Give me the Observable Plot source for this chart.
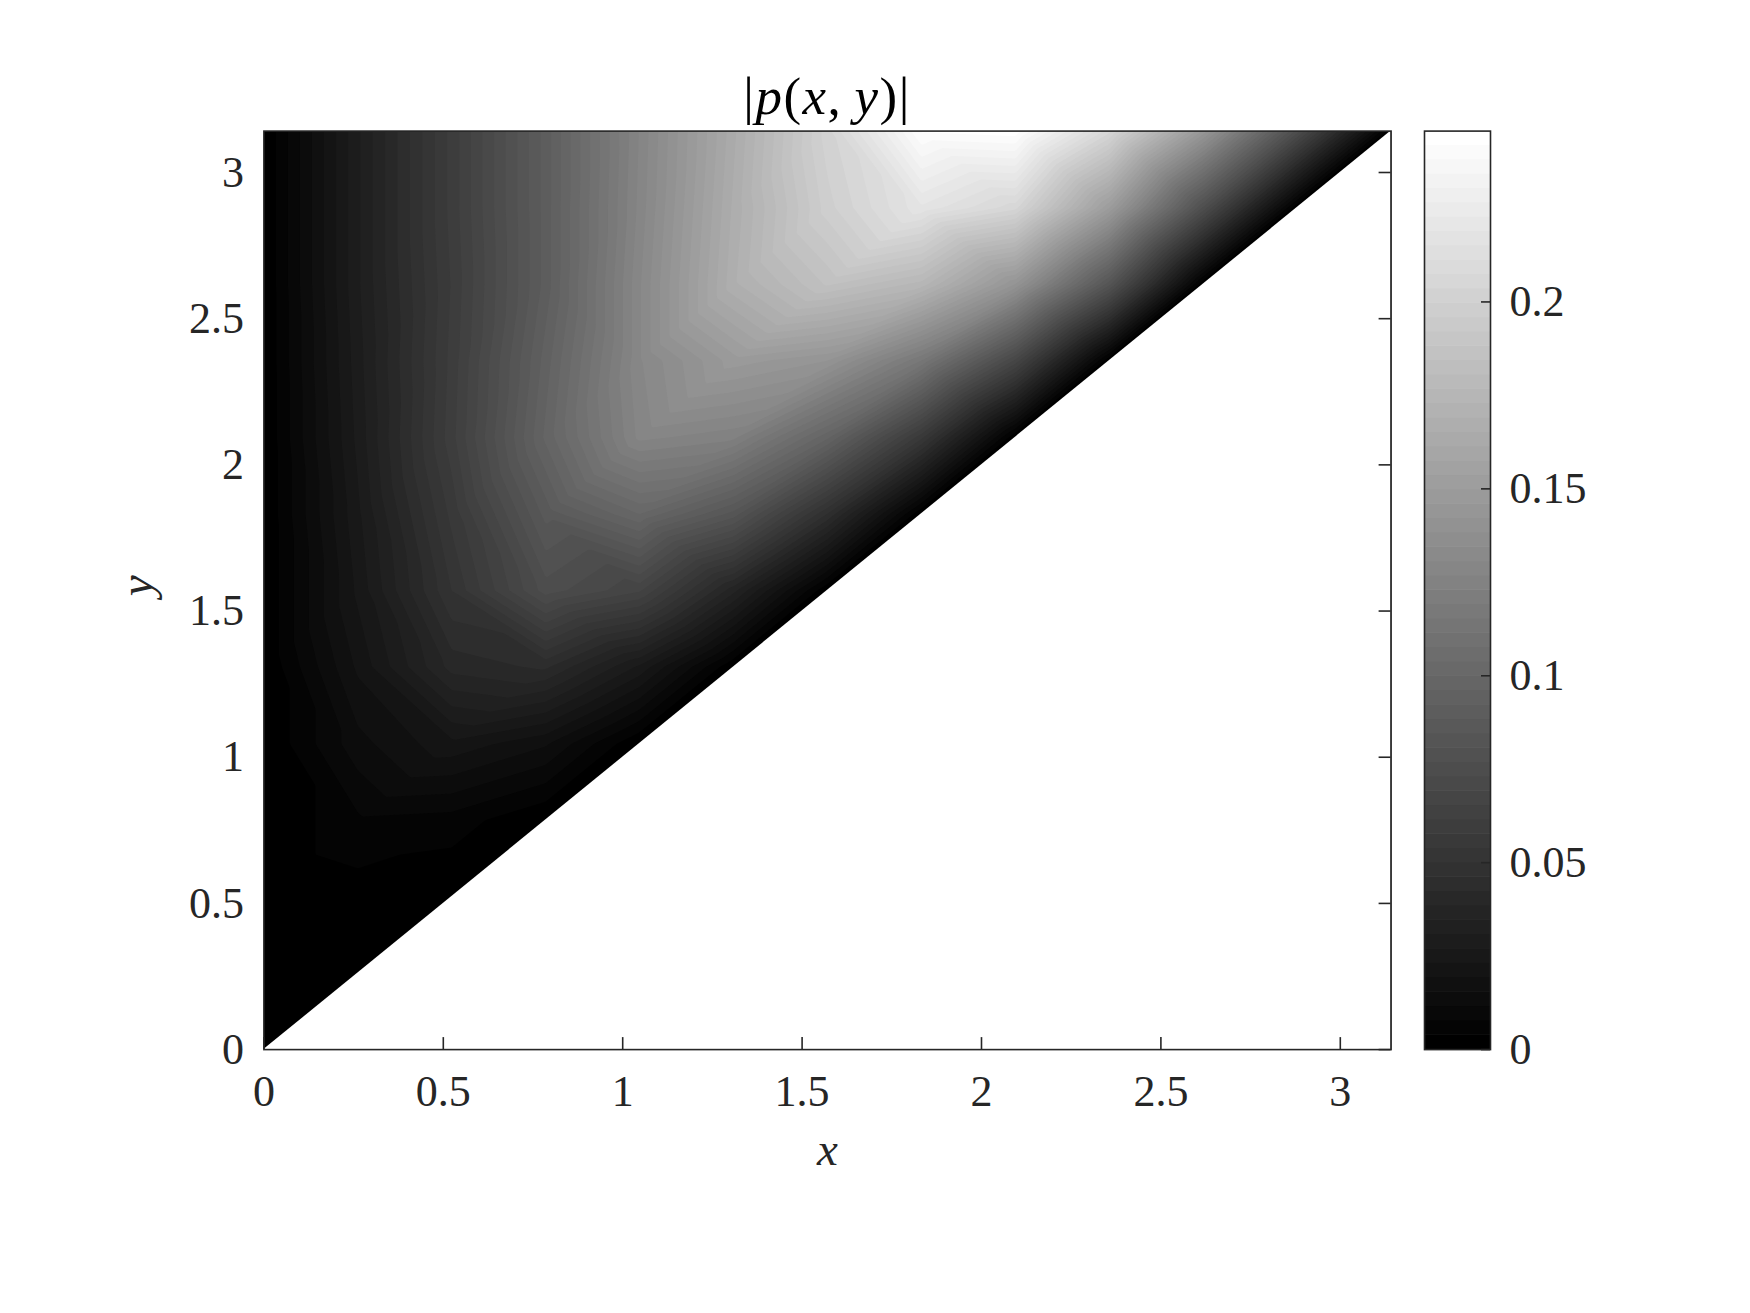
<!DOCTYPE html>
<html>
<head>
<meta charset="utf-8">
<script src="https://cdn.jsdelivr.net/npm/d3@7"></script>
<script src="https://cdn.jsdelivr.net/npm/@observablehq/plot@0.6"></script>
<style>
  html, body { margin: 0; padding: 0; background: #fff; }
  #fig { position: relative; width: 1750px; height: 1313px; overflow: hidden; background: #fff; }
  #fig svg { position: absolute; top: 0; }
</style>
</head>
<body>
<div id="fig"></div>
<script>
const gridStep = Math.PI / 12;
const pRows = [
  [0],
  [0, 0],
  [0, 0.002, 0],
  [0, 0.007, 0.006, 0],
  [0, 0.014, 0.022, 0.016, 0],
  [0, 0.020, 0.040, 0.043, 0.026, 0],
  [0, 0.024, 0.050, 0.075, 0.066, 0.036, 0],
  [0, 0.026, 0.055, 0.086, 0.100, 0.083, 0.046, 0],
  [0, 0.028, 0.060, 0.097, 0.128, 0.124, 0.097, 0.055, 0],
  [0, 0.029, 0.059, 0.094, 0.130, 0.148, 0.142, 0.115, 0.068, 0],
  [0, 0.030, 0.058, 0.090, 0.130, 0.168, 0.185, 0.175, 0.142, 0.082, 0],
  [0, 0.030, 0.059, 0.090, 0.128, 0.166, 0.198, 0.218, 0.205, 0.150, 0.076, 0],
  [0, 0.030, 0.059, 0.090, 0.127, 0.164, 0.202, 0.2425, 0.2445, 0.205, 0.145, 0.075, 0]
];
const xTicks = [0, 0.5, 1, 1.5, 2, 2.5, 3];
const yTicks = [0, 0.5, 1, 1.5, 2, 2.5, 3];
const cbarTicks = [0, 0.05, 0.1, 0.15, 0.2];
const cbarMax = 0.2457;
const nLevels = 64;
const titleParts = [["|", "normal"], ["p", "italic"], ["(", "normal"], ["x", "italic"], [",\u2009", "normal"], ["y", "italic"], [")", "normal"], ["|", "normal"]];
const xLabel = "x";
const yLabel = "y";

// ---- derived tables
const samples = pRows.flatMap((row, j) => row.map((v, k) => ({x: k * gridStep, y: j * gridStep, v})));
const domainEdge = [0, Math.PI];
const thresholds = d3.range(nLevels).map(k => k * cbarMax / nLevels);
const bands = d3.range(nLevels).map(k => ({lo: k * cbarMax / nLevels, hi: (k + 1) * cbarMax / nLevels}));
const colorOpts = {type: "linear", domain: [0, cbarMax * (nLevels - 1) / nLevels], range: ["#000000", "#ffffff"], clamp: true};
const fmt = d => String(d);

// ---- layout
const W = 1750, H = 1313;
const L = 263.4, R = 1390.6, T = 130.6, B = 1049.1;
const CL = 1424, CR = 1490;
const fw = R - L, fh = B - T;
const font = '"Liberation Serif", "Times New Roman", Times, serif';
const ink = "#262626";

const main = Plot.plot({
  width: W, height: H,
  marginLeft: L, marginRight: W - R, marginTop: T, marginBottom: H - B,
  style: {fontFamily: font, fontSize: "44px", color: ink, background: "transparent", overflow: "visible"},
  x: {domain: [0, Math.PI]},
  y: {domain: [0, Math.PI]},
  color: colorOpts,
  marks: [
    Plot.contour(samples, {x: "x", y: "y", fill: "v", interpolate: "barycentric", thresholds,
      x1: 0, y1: 0, x2: Math.PI, y2: Math.PI, pixelSize: 2}),
    Plot.areaY(domainEdge, {x: d => d, y1: 0, y2: d => d, fill: "white"}),
    Plot.tickX(xTicks, {x: d => d, stroke: ink, strokeWidth: 1.6, insetTop: fh - 12}),
    Plot.tickY(yTicks, {y: d => d, stroke: ink, strokeWidth: 1.6, insetLeft: fw - 12}),
    Plot.frame({stroke: ink, strokeWidth: 1.6}),
    Plot.axisX({ticks: xTicks, tickFormat: fmt, tickSize: 0, tickPadding: 25, fontSize: 44, label: null, fill: ink}),
    Plot.axisY({ticks: yTicks, tickFormat: fmt, anchor: "left", tickSize: 0, tickPadding: 20, fontSize: 44, label: null, fill: ink}),
    Plot.text([xLabel], {text: d => d, frameAnchor: "bottom", dy: 100, lineAnchor: "middle",
      fontStyle: "italic", fontSize: 47, fill: ink}),
    Plot.text([yLabel], {text: d => d, frameAnchor: "left", dx: -127, dy: 6, rotate: -90, lineAnchor: "middle",
      fontStyle: "italic", fontSize: 47, fill: ink})
  ]
});
main.style.left = "0px";

// title with mixed upright / italic math text
const title = d3.select(main).append("text")
  .attr("x", (L + R) / 2).attr("y", 114)
  .attr("text-anchor", "middle")
  .attr("font-family", font).attr("font-size", 53).attr("fill", "#000")
  .attr("letter-spacing", "1.5px");
titleParts.forEach(([s, st]) => title.append("tspan").attr("font-style", st).text(s));

const cbar = Plot.plot({
  width: W - CL, height: H,
  marginLeft: 0, marginRight: W - CR, marginTop: T, marginBottom: H - B,
  style: {fontFamily: font, fontSize: "44px", color: ink, background: "transparent", overflow: "visible"},
  y: {domain: [0, cbarMax]},
  color: colorOpts,
  marks: [
    Plot.rect(bands, {y1: "lo", y2: "hi", fill: "lo", insetTop: -0.6}),
    Plot.tickY(cbarTicks, {y: d => d, stroke: ink, strokeWidth: 1.6, insetLeft: (CR - CL) - 9}),
    Plot.frame({stroke: ink, strokeWidth: 1.6}),
    Plot.axisY({ticks: cbarTicks, tickFormat: fmt, anchor: "right", tickSize: 0, tickPadding: 19, fontSize: 44, label: null, fill: ink})
  ]
});
cbar.style.left = CL + "px";

const fig = document.getElementById("fig");
fig.appendChild(main);
fig.appendChild(cbar);
</script>
</body>
</html>
